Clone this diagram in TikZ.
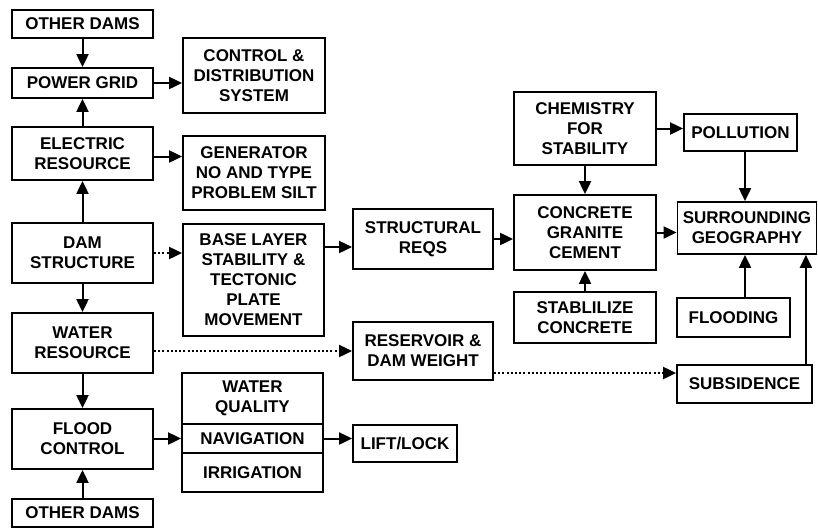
\documentclass[tikz,border=0pt]{standalone}
\usepackage{fontspec}
\setmainfont{Liberation Sans}
\usetikzlibrary{arrows.meta}
\tikzset{
  box/.style={draw=black, line width=1.8pt, inner sep=0pt, align=center,
    font=\bfseries\fontsize{17}{20}\selectfont},
  arr/.style={line width=2pt, -{Triangle[length=13pt,width=12pt]}},
  dotarr/.style={arr, dash pattern=on 2pt off 2.2pt}
}
\begin{document}
\begin{tikzpicture}[x=1pt,y=-1pt]
\path[use as bounding box, clip] (0,0) rectangle (818,528);
\fill[white] (0,0) rectangle (818,528);
% left column
\node[box, minimum width=141pt, minimum height=28pt] (od1) at (82.5,24) {OTHER DAMS};
\node[box, minimum width=141pt, minimum height=30pt] (pg) at (82.5,83) {POWER GRID};
\node[box, minimum width=141pt, minimum height=53pt] (er) at (82.5,153.5) {ELECTRIC\\RESOURCE};
\node[box, minimum width=141pt, minimum height=60pt] (ds) at (82.5,253) {DAM\\STRUCTURE};
\node[box, minimum width=141pt, minimum height=60pt] (wr) at (82.5,343) {WATER\\RESOURCE};
\node[box, minimum width=141pt, minimum height=60pt] (fc) at (82.5,439) {FLOOD\\CONTROL};
\node[box, minimum width=141pt, minimum height=28pt] (od2) at (82.5,513) {OTHER DAMS};
% second column
\node[box, minimum width=142pt, minimum height=75pt] (cds) at (254,75.5) {CONTROL \&\\DISTRIBUTION\\SYSTEM};
\node[box, minimum width=142pt, minimum height=74pt] (gen) at (254,173) {GENERATOR\\NO AND TYPE\\PROBLEM SILT};
\node[box, minimum width=141pt, minimum height=112pt] (base) at (253.5,280) {BASE LAYER\\STABILITY \&\\TECTONIC\\PLATE\\MOVEMENT};
\node[box, minimum width=141pt, minimum height=51pt] (wq) at (252.5,398.5) {WATER\\QUALITY};
\node[box, minimum width=141pt, minimum height=29pt] (nav) at (252.5,438.5) {NAVIGATION};
\node[box, minimum width=141pt, minimum height=39pt] (irr) at (252.5,472.5) {IRRIGATION};
% third column
\node[box, minimum width=140pt, minimum height=60pt] (sr) at (423,239) {STRUCTURAL\\REQS};
\node[box, minimum width=140pt, minimum height=58pt] (res) at (423,351) {RESERVOIR \&\\DAM WEIGHT};
\node[box, minimum width=104pt, minimum height=37pt] (lift) at (405,443.5) {LIFT/LOCK};
% fourth column
\node[box, minimum width=142pt, minimum height=73pt] (chem) at (585,128.5) {CHEMISTRY\\FOR\\STABILITY};
\node[box, minimum width=142pt, minimum height=75pt] (conc) at (585,232.5) {CONCRETE\\GRANITE\\CEMENT};
\node[box, minimum width=142pt, minimum height=51pt] (stab) at (585,317.5) {STABLILIZE\\CONCRETE};
% fifth column
\node[box, minimum width=113pt, minimum height=37pt] (poll) at (740.5,132.5) {POLLUTION};
\node[box, minimum width=139pt, minimum height=52pt] (sg) at (747,228) {SURROUNDING\\GEOGRAPHY};
\node[box, minimum width=113pt, minimum height=39pt] (flood) at (733.5,317.5) {FLOODING};
\node[box, minimum width=135pt, minimum height=38pt] (sub) at (744.5,384) {SUBSIDENCE};
% connectors
\draw[arr] (od1) -- (pg);
\draw[arr] (er) -- (pg);
\draw[arr] (ds) -- (er);
\draw[arr] (ds) -- (wr);
\draw[arr] (wr) -- (fc);
\draw[arr] (od2) -- (fc);
\draw[arr] (pg.east) -- (pg.east -| cds.west);
\draw[arr] ([yshift=-3pt]er.east) -- ([yshift=-3pt]er.east -| gen.west);
\draw[dotarr] (ds.east) -- (ds.east -| base.west);
\draw[arr] (base.east |- 0,247) -- (sr.west |- 0,247);
\draw[arr] (sr.east) -- (sr.east -| conc.west);
\draw[dotarr] (wr.east |- res.west) -- (res.west);
\draw[dotarr] (res.east |- 0,373) -- (sub.west |- 0,373);
\draw[arr] (fc.east |- nav.west) -- (nav.west);
\draw[arr] (nav.east) -- (nav.east -| lift.west);
\draw[arr] (chem.east) -- (chem.east -| poll.west);
\draw[arr] (chem) -- (conc);
\draw[arr] (stab) -- (conc);
\draw[arr] (conc.east) -- (conc.east -| sg.west);
\draw[arr] ([xshift=4.5pt]poll.south) -- ([xshift=4.5pt]poll.south |- sg.north);
\draw[arr] ([xshift=4.5pt]poll.south |- flood.north) -- ([xshift=4.5pt]poll.south |- sg.south);
\draw[arr] ([xshift=-7pt]sub.north east) -- ([xshift=-7pt]sub.north east |- sg.south);
\end{tikzpicture}
\end{document}
